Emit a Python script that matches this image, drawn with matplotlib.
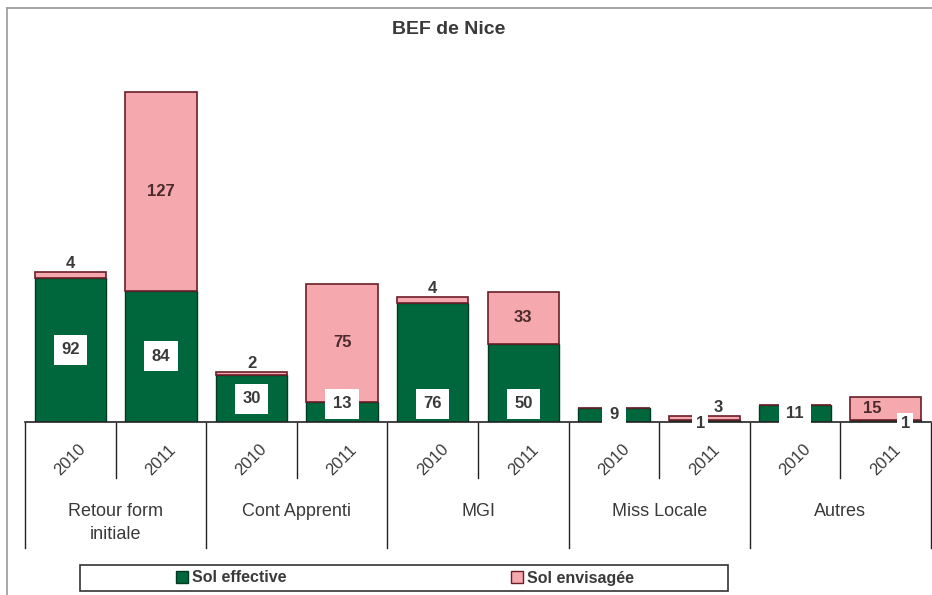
import matplotlib
matplotlib.use("Agg")
import matplotlib.pyplot as plt
from matplotlib.patches import Rectangle, Patch
from matplotlib.lines import Line2D
import matplotlib.transforms as mtrans

plt.rcParams['font.family'] = ['Liberation Sans', 'DejaVu Sans']

categories = ["Retour form\ninitiale", "Cont Apprenti", "MGI", "Miss Locale", "Autres"]
years = ["2010", "2011"]
sol_effective = [92, 84, 30, 13, 76, 50, 9, 1, 11, 1]
sol_envisagee = [4, 127, 2, 75, 4, 33, 0, 3, 0, 15]
series_names = ["Sol effective", "Sol envisagée"]

GREEN = "#00663c"
GREEN_EDGE = "#003a22"
PINK = "#f5a8ae"
PINK_EDGE = "#6b1e28"
TXT = "#3a3a3a"

W, H = 932, 595
fig = plt.figure(figsize=(W / 100, H / 100), dpi=100)

def px(x0, y0, x1, y1):
    return [x0 / W, 1 - y1 / H, (x1 - x0) / W, (y1 - y0) / H]

ax = fig.add_axes(px(25, 8, 931, 422))
n = len(sol_effective)
xs = list(range(n))
ax.bar(xs, sol_effective, width=0.79, color=GREEN, edgecolor=GREEN_EDGE, linewidth=1.0)
ax.bar(xs, sol_envisagee, width=0.79, bottom=sol_effective, color=PINK,
       edgecolor=PINK_EDGE, linewidth=1.2)
ax.set_xlim(-0.5, n - 0.5)
ax.set_ylim(0, 264.5)
for s in ["top", "right", "left"]:
    ax.spines[s].set_visible(False)
ax.spines["bottom"].set_color("#222222")
ax.spines["bottom"].set_linewidth(1.2)
ax.set_xticks([])
ax.set_yticks([])

# label offsets (points) for crowded small bars
eff_dx = {7: -3, 9: 14}
env_dx = {7: 10, 9: -10}
eff_at_base = {3, 4, 5}

box = dict(boxstyle="square,pad=0.45", fc="white", ec="none")
for i in xs:
    e = sol_effective[i]
    v = sol_envisagee[i]
    if e > 0:
        dx = eff_dx.get(i, 0)
        if i in eff_at_base:
            ax.annotate(str(e), (i, 0), xytext=(dx, 13), textcoords="offset points",
                        ha="center", va="center", fontsize=12, fontweight="bold", color=TXT,
                        bbox=box, zorder=5)
        else:
            ax.annotate(str(e), (i, e / 2), xytext=(dx, 0 if e > 3 else -2), textcoords="offset points",
                        ha="center", va="center", fontsize=12, fontweight="bold", color=TXT,
                        bbox=box if e > 3 else dict(boxstyle="square,pad=0.2", fc="white", ec="none"),
                        zorder=5)
    if v > 0:
        dx = env_dx.get(i, 0)
        if v >= 10:
            ax.annotate(str(v), (i, e + v / 2), xytext=(dx, 0), textcoords="offset points",
                        ha="center", va="center", fontsize=12, fontweight="bold", color="#4a2a2a", zorder=5)
        else:
            ax.annotate(str(v), (i, e + v), xytext=(dx, 0.5), textcoords="offset points",
                        ha="center", va="bottom", fontsize=12, fontweight="bold", color=TXT, zorder=5)

# hierarchical axis
trans = mtrans.blended_transform_factory(ax.transData, fig.transFigure)
def fy(y):
    return 1 - y / H
for k in range(len(categories) + 1):
    xb = 2 * k - 0.5
    fig.add_artist(Line2D([xb, xb], [fy(423), fy(548)], transform=trans, color="#222222", lw=1.0))
for k in range(len(categories)):
    xb = 2 * k + 0.5
    fig.add_artist(Line2D([xb, xb], [fy(423), fy(478)], transform=trans, color="#222222", lw=1.0))
    fig.text(2 * k + 0.5, fy(503), categories[k], transform=trans, ha="center", va="top",
             fontsize=13, color=TXT, linespacing=1.45)
    for j, yr in enumerate(years):
        fig.text(2 * k + j, fy(460), yr, transform=trans, ha="center", va="center",
                 rotation=45, fontsize=12, color=TXT)

# title
fig.text(449 / W, fy(30), "BEF de Nice", ha="center", va="center", fontsize=14,
         fontweight="bold", color=TXT)

# outer frame lines
fig.add_artist(Line2D([7 / W, 7 / W], [fy(8), 0], transform=fig.transFigure, color="#9a9a9a", lw=1.2))
fig.add_artist(Line2D([7 / W, 1], [fy(8), fy(8)], transform=fig.transFigure, color="#9a9a9a", lw=1.2))

# legend
fig.add_artist(Rectangle((80 / W, fy(591)), 648 / W, 26 / H, transform=fig.transFigure,
                         fc="white", ec="#333333", lw=1.2))
handles = [Patch(facecolor=GREEN, edgecolor=GREEN_EDGE), Patch(facecolor=PINK, edgecolor=PINK_EDGE)]
leg = fig.legend(handles, series_names, loc="center", bbox_to_anchor=(405 / W, fy(578)),
                 ncol=2, frameon=False, handlelength=0.75, handleheight=0.75, handletextpad=0.25,
                 columnspacing=14.0, prop=dict(size=11.5, weight="bold"))
for t in leg.get_texts():
    t.set_color(TXT)

fig.savefig("out.png", dpi=100)
